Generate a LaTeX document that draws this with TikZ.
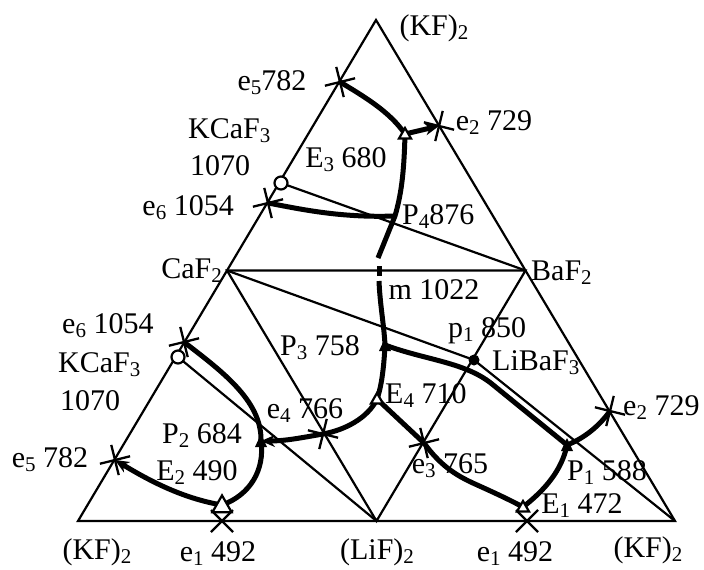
\documentclass[tikz,border=0pt]{standalone}
\usepackage{fontspec}
\setmainfont{Liberation Serif}
\usetikzlibrary{arrows.meta}
\newcommand\sbs[1]{\raisebox{-0.15em}{\fontsize{21}{21}\selectfont #1}}
\begin{document}
\begin{tikzpicture}[x=1pt,y=-1pt,
  thinl/.style={line width=2.2pt},
  thickl/.style={line width=5pt},
  tipped/.style={-{Stealth[length=14pt,width=12pt]}},
  lbl/.style={font=\fontsize{30}{32}\selectfont, inner sep=0pt, anchor=base},
  xcross/.pic={\draw[line width=2.3pt] (-11,-11)--(11,11) (-11,11)--(11,-11);},
  opentri/.pic={\draw[line width=2.2pt,fill=white] (-6,4.5)--(0,-6)--(6,4.5)--cycle;},
  filltri/.pic={\fill (-6,6)--(0,-7)--(6,6)--cycle;}
]
\useasboundingbox (0,0) rectangle (704,570);
% vertices
\coordinate (A) at (78,521);
\coordinate (T) at (376,20);
\coordinate (B) at (675,521);
\coordinate (C) at (227,270.5);
\coordinate (D) at (525.5,270.5);
\coordinate (L) at (376.5,521);
\coordinate (K1) at (281,183);
\coordinate (K2) at (178,357);
\coordinate (LB) at (474,360);
% points
\coordinate (e5t) at (340,82);
\coordinate (e2t) at (439,126);
\coordinate (e6t) at (268,203);
\coordinate (e6b) at (184,342);
\coordinate (e5b) at (115,460);
\coordinate (e1l) at (222,521);
\coordinate (e4) at (323,434);
\coordinate (e3) at (424,443);
\coordinate (e1r) at (527,521);
\coordinate (e2r) at (610,411);
\coordinate (E3) at (405,134);
\coordinate (E2) at (222,505);
\coordinate (E4) at (377,399);
\coordinate (E1) at (523,507);
\coordinate (P4) at (395,216);
\coordinate (P3) at (385,345);
\coordinate (P2) at (261,441);
\coordinate (P1) at (567,445);
\coordinate (g1) at (378,258);
\coordinate (g2) at (379,266);
\coordinate (g3) at (379,276);
\coordinate (g4) at (379,281);
\coordinate (r1) at (492,384);
\coordinate (s1) at (475,484);

% thin lines
\draw[thinl] (A) -- (T) -- (B) -- cycle;
\draw[thinl] (C) -- (D) -- (L) -- cycle;
\draw[thinl] (K1) -- (D);
\draw[thinl] (K2) -- (L);
\draw[thinl] (C) -- (LB) -- (B);

% thick curves
\draw[thickl] (e5t) .. controls (365,97) and (390,112) .. (E3);
\draw[thickl,tipped] (E3) -- (e2t);
\draw[thickl] (E3) .. controls (404,175) and (401,195) .. (P4) -- (g1);
\draw[thickl] (g2) -- (g3);
\draw[thickl] (g4) .. controls (380,305) and (384,325) .. (P3);
\draw[thickl] (e6t) .. controls (300,209) and (340,218) .. (P4);
\draw[thickl] (P3) .. controls (425,360) and (465,362) .. (r1) -- (P1);
\draw[thickl] (e4) .. controls (345,430) and (368,418) .. (E4) .. controls (382,385) and (384,365) .. (P3);
\draw[thickl,tipped] (e4) .. controls (300,438) and (285,441) .. (P2);
\draw[thickl] (E4) -- (e3);
\draw[thickl] (e3) .. controls (440,465) and (455,475) .. (s1) .. controls (495,493) and (510,500) .. (E1);
\draw[thickl] (E1) .. controls (545,490) and (562,470) .. (P1);
\draw[thickl] (P1) .. controls (585,438) and (600,425) .. (e2r);
\draw[thickl] (e6b) .. controls (220,370) and (262,400) .. (P2);
\draw[thickl] (P2) .. controls (265,470) and (250,495) .. (E2);
\draw[thickl,tipped] (E2) .. controls (180,498) and (145,478) .. (e5b);

% markers
\pic[rotate=59] at (e5t) {xcross};
\pic[rotate=-59] at (e2t) {xcross};
\pic[rotate=59] at (e6t) {xcross};
\pic[rotate=59] at (e6b) {xcross};
\pic[rotate=59] at (e5b) {xcross};
\pic at (e1l) {xcross};
\pic[rotate=-59] at (e4) {xcross};
\pic[rotate=59] at (e3) {xcross};
\pic at (e1r) {xcross};
\pic[rotate=-59] at (e2r) {xcross};
\pic at (E3) {opentri};
\pic[scale=1.6] at (E2) {opentri};
\pic at (E4) {opentri};
\pic at (E1) {opentri};
\pic at (P3) {filltri};
\pic at (P2) {filltri};
\pic at (P1) {filltri};
\draw[thinl,fill=white] (K1) circle (6.5);
\draw[thinl,fill=white] (K2) circle (6.5);
\fill (LB) circle (5.5);

% labels
\node[lbl] (tKFt) at (434,35) {(KF)\sbs{2}};
\node[lbl] (te5t) at (272,90) {e\sbs{5}782};
\node[lbl] (te2t) at (494,130) {e\sbs{2} 729};
\node[lbl,anchor=base west] (tK1) at (188,138) {KCaF\sbs{3}};
\node[lbl,anchor=base west] (tK1b) at (190,175) {1070};
\node[lbl] (tE3) at (346,167) {E\sbs{3} 680};
\node[lbl,anchor=base east] (te6t) at (234,215) {e\sbs{6} 1054};
\node[lbl,anchor=base west] (tP4) at (402,224) {P\sbs{4}876};
\node[lbl,anchor=base east] (tC) at (222,278) {CaF\sbs{2}};
\node[lbl,anchor=base west] (tD) at (531,280) {BaF\sbs{2}};
\node[lbl] (tm) at (434,299) {m 1022};
\node[lbl] (tp1) at (487,337) {p\sbs{1} 850};
\node[lbl,anchor=base west] (tLB) at (492,370) {LiBaF\sbs{3}};
\node[lbl] (tP3) at (320,355) {P\sbs{3} 758};
\node[lbl,anchor=base west] (tE4) at (385,403) {E\sbs{4} 710};
\node[lbl] (te4) at (305,418) {e\sbs{4} 766};
\node[lbl,anchor=base west] (te6b) at (62,333) {e\sbs{6} 1054};
\node[lbl,anchor=base west] (tK2) at (58,372) {KCaF\sbs{3}};
\node[lbl,anchor=base west] (tK2b) at (60,410) {1070};
\node[lbl] (tP2) at (202,443) {P\sbs{2} 684};
\node[lbl] (tE2) at (197,480) {E\sbs{2} 490};
\node[lbl] (te5b) at (50,467) {e\sbs{5} 782};
\node[lbl] (te3) at (450,473) {e\sbs{3} 765};
\node[lbl,anchor=base west] (te2r) at (623,415) {e\sbs{2} 729};
\node[lbl] (tP1) at (607,480) {P\sbs{1} 588};
\node[lbl] (tE1) at (582,513) {E\sbs{1} 472};
\node[lbl] (tKFl) at (97,559) {(KF)\sbs{2}};
\node[lbl] (te1l) at (218,561) {e\sbs{1} 492};
\node[lbl] (tLiF) at (377,559) {(LiF)\sbs{2}};
\node[lbl] (te1r) at (515,561) {e\sbs{1} 492};
\node[lbl] (tKFr) at (648,557) {(KF)\sbs{2}};
\end{tikzpicture}
\end{document}
